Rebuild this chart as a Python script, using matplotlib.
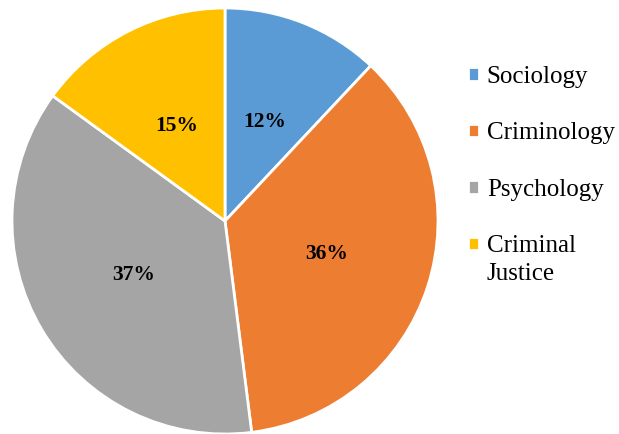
import matplotlib.pyplot as plt

plt.rcParams['font.family'] = ['Liberation Serif', 'DejaVu Serif']

subjects = ['Sociology', 'Criminology', 'Psychology', 'Criminal Justice']
shares = [12, 36, 37, 15]
colors = ['#5B9BD5', '#ED7D31', '#A5A5A5', '#FFC000']

fig = plt.figure(figsize=(6.19, 4.34), dpi=100)
# pie centre ~ (225, 221) px, radius ~213 px
ax = fig.add_axes([12 / 619, 0 / 434, 426 / 619, 426 / 434])

wedges, texts, autotexts = ax.pie(
    shares, colors=colors, startangle=90, counterclock=False,
    autopct='%d%%', pctdistance=0.5, radius=1.0,
    wedgeprops=dict(edgecolor='white', linewidth=2),
    textprops=dict(fontsize=15.5, fontweight='bold', color='black'))
ax.set_aspect('equal')
ax.set_xlim(-1.0, 1.0)
ax.set_ylim(-1.0, 1.0)

# legend: long label wraps, marker stays on the first line
first_lines = [s.split(' ')[0] if s == 'Criminal Justice' else s for s in subjects]
leg = fig.legend(wedges, first_lines, loc='upper left', bbox_to_anchor=(468 / 619, 1 - 66 / 434),
                 frameon=False, fontsize=18, handlelength=0.45, handleheight=0.45,
                 handletextpad=0.3, labelspacing=1.38, borderaxespad=0, borderpad=0)

fig.canvas.draw()
last = leg.get_texts()[-1]
bb = last.get_window_extent()
fig.text(bb.x0 / 619, (bb.y0 - 28) / 434, 'Justice', fontsize=18, ha='left', va='bottom')

fig.savefig('out.png', dpi=100)
